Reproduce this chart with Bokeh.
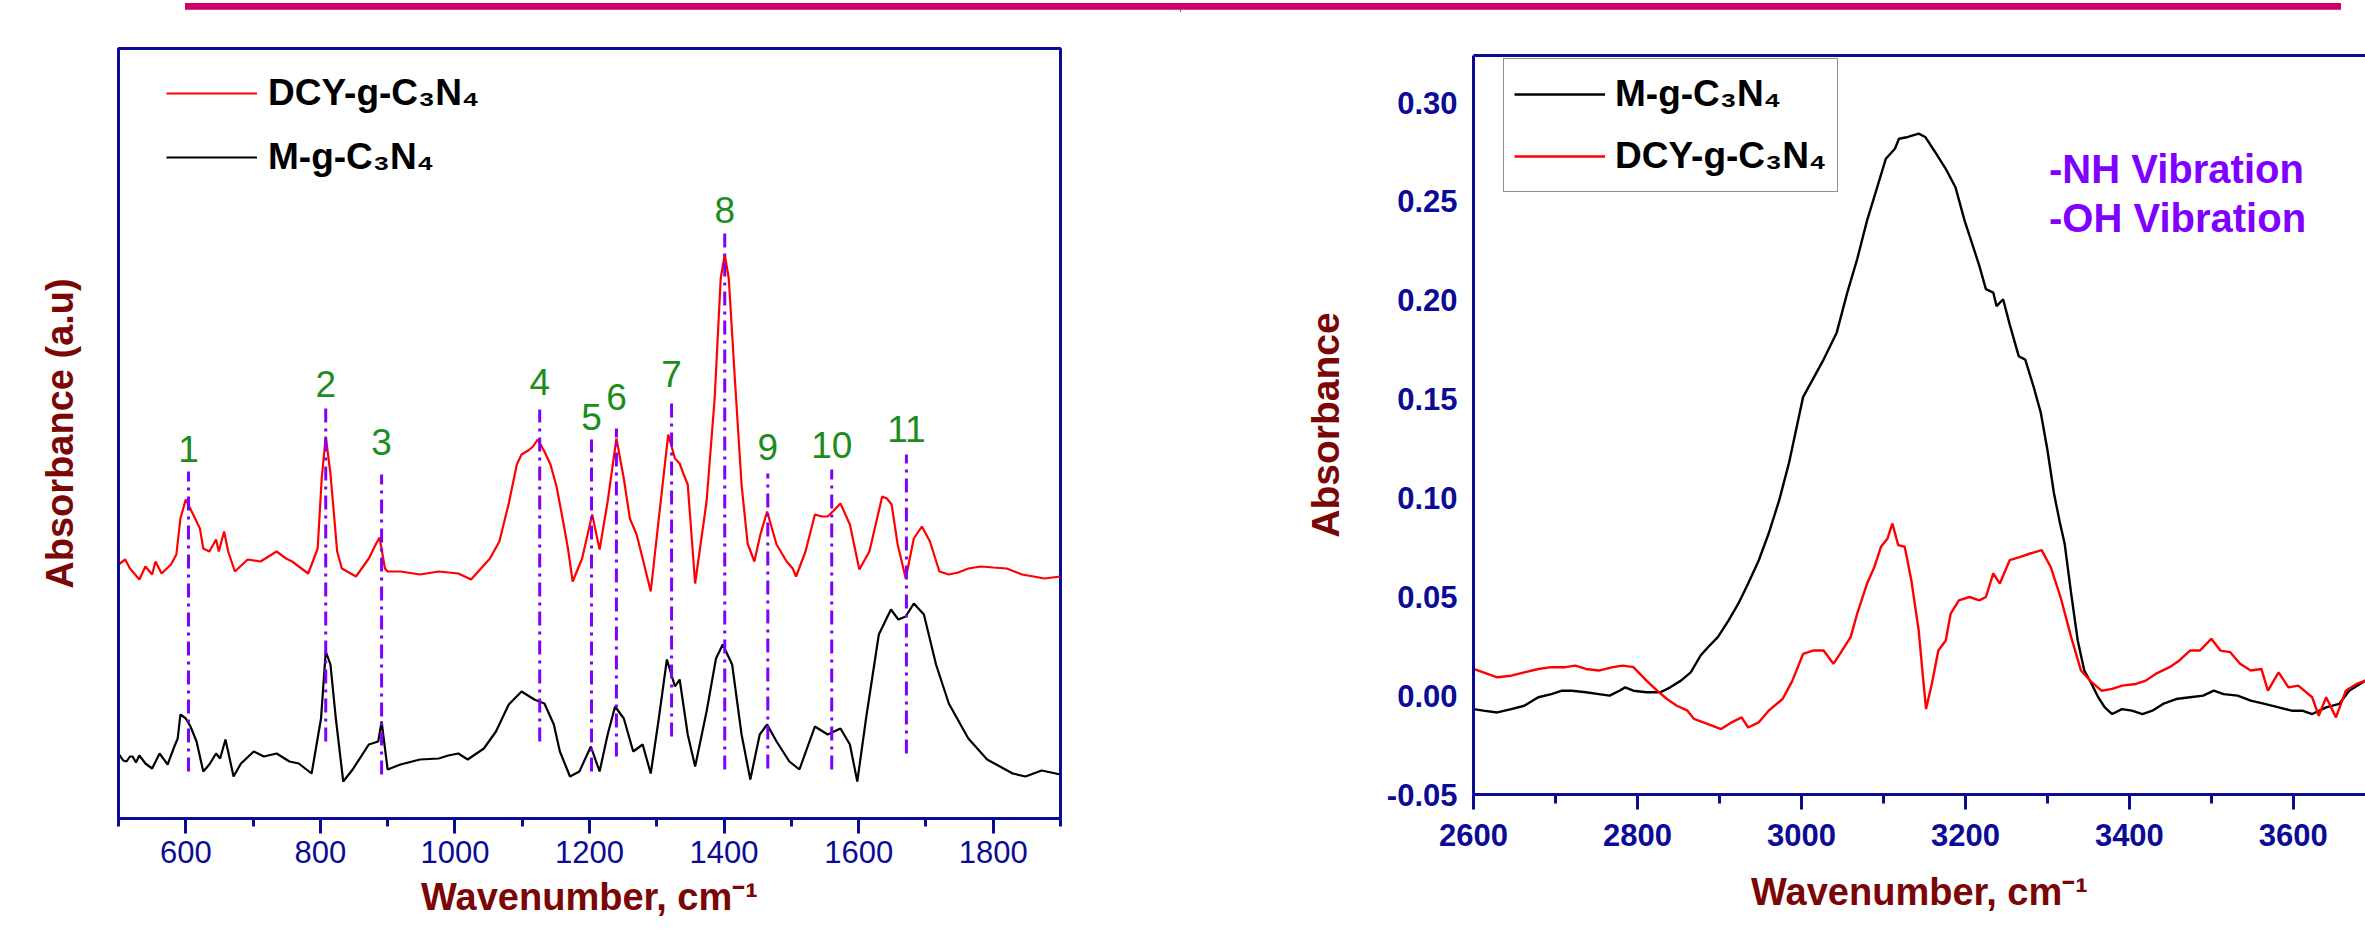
from bokeh.plotting import figure
from bokeh.models import (Range1d, LinearAxis, FixedTicker, SingleIntervalTicker, Legend,
                          LegendItem, Label, Div, PrintfTickFormatter)
from bokeh.layouts import column, row
from bokeh.embed import file_html
from bokeh.resources import INLINE
from bokeh.core.properties import value

# ---------------- data: fingerprint region (500-1900 cm-1), stacked, arbitrary units ----------------
low_wn_dcy = [500, 510, 517, 531, 540, 550, 555, 564, 578, 586, 592, 600, 611, 621, 626, 635, 645, 649,
              657, 663, 673, 692, 711, 735, 749, 758, 782, 796, 802, 808, 815, 825, 832, 853, 872, 883,
              888, 896, 900, 919, 948, 976, 1005, 1024, 1052, 1066, 1080, 1092, 1099, 1109, 1116, 1123,
              1133, 1142, 1151, 1160, 1168, 1175, 1189, 1204, 1215, 1227, 1240, 1251, 1260, 1270, 1279,
              1291, 1303, 1317, 1327, 1334, 1340, 1346, 1357, 1374, 1386, 1395, 1401, 1407, 1416, 1426,
              1435, 1445, 1454, 1464, 1478, 1493, 1502, 1507, 1521, 1535, 1545, 1554, 1563, 1573, 1587,
              1601, 1616, 1635, 1642, 1649, 1658, 1670, 1682, 1694, 1706, 1720, 1734, 1748, 1763, 1782,
              1800, 1820, 1843, 1860, 1876, 1900]
low_dcy = [254, 259, 250, 239, 252, 244, 257, 245, 254, 264, 300, 319, 304, 290, 270, 267, 279, 267,
           287, 267, 247, 259, 257, 267, 260, 257, 245, 270, 340, 382, 345, 267, 250, 242, 260, 275,
           281, 250, 247, 247, 244, 247, 245, 239, 260, 277, 315, 354, 364, 368, 372, 379,
           367, 354, 332, 300, 270, 237, 260, 304, 269, 317, 380, 340, 300, 284, 260,
           227, 300, 384, 360, 355, 344, 334, 235, 317, 420, 540, 564, 540, 440, 334,
           275, 257, 284, 307, 274, 257, 250, 242, 267, 304, 302, 302, 308, 315, 294,
           249, 267, 322, 320, 314, 274, 240, 280, 292, 277, 247, 244, 246, 250, 252,
           251, 250, 244, 242, 240, 242]

low_wn_m = [500, 507, 512, 517, 521, 526, 531, 540, 550, 561, 573, 583, 588, 592, 600, 607, 616, 626,
            635, 645, 651, 659, 671, 682, 701, 716, 735, 754, 768, 787, 801, 808, 815, 823, 834, 848,
            872, 886, 891, 900, 919, 948, 976, 990, 1005, 1019, 1043, 1061, 1080, 1099, 1118, 1133,
            1147, 1156, 1171, 1185, 1202, 1215, 1227, 1238, 1251, 1265, 1279, 1291, 1303, 1315, 1327,
            1334, 1346, 1357, 1374, 1388, 1398, 1412, 1426, 1439, 1453, 1464, 1478, 1497, 1512, 1535,
            1554, 1573, 1587, 1598, 1611, 1630, 1648, 1659, 1670, 1682, 1697, 1715, 1734, 1763, 1791,
            1829, 1848, 1872, 1900]
low_m = [65, 58, 57, 62, 62, 56, 63, 55, 50, 65, 54, 72, 80, 104, 100, 92, 77, 47,
         54, 65, 60, 79, 42, 55, 67, 62, 65, 57, 55, 45, 100, 167, 154, 100, 37, 49,
         74, 77, 97, 49, 54, 59, 60, 63, 65, 59, 70, 87, 114, 127, 119, 115,
         94, 67, 42, 47, 72, 47, 84, 112, 100, 67, 74, 45, 100, 159, 132,
         139, 84, 52, 107, 160, 174, 154, 84, 39, 84, 94, 77, 57, 49, 92,
         84, 90, 74, 37, 100, 184, 209, 199, 202, 215, 204, 154, 115, 80, 59,
         45, 42, 48, 44]

# assigned bands
peak_labels = ["1", "2", "3", "4", "5", "6", "7", "8", "9", "10", "11"]
peak_wn = [604, 808, 891, 1126, 1203, 1240, 1322, 1401, 1465, 1560, 1671]

# ---------------- data: N-H / O-H stretching region ----------------
high_wn_m = [2600, 2612, 2629, 2646, 2662, 2679, 2695, 2708, 2720, 2737, 2753, 2766, 2778, 2785, 2795,
             2811, 2828, 2840, 2853, 2865, 2877, 2886, 2898, 2911, 2923, 2935, 2948, 2960, 2973, 2985,
             3002, 3027, 3043, 3056, 3068, 3080, 3093, 3103, 3114, 3119, 3130, 3143, 3151, 3163, 3176,
             3188, 3199, 3209, 3217, 3225, 3234, 3238, 3246, 3254, 3265, 3273, 3283, 3292, 3300, 3308,
             3315, 3321, 3329, 3337, 3345, 3354, 3362, 3370, 3379, 3391, 3403, 3416, 3428, 3441, 3457,
             3474, 3490, 3503, 3515, 3532, 3548, 3565, 3582, 3598, 3611, 3623, 3640, 3656, 3668, 3688]
high_m = [-0.0068, -0.0076, -0.0085, -0.0068, -0.0051, -0.0008, 0.0008, 0.0025, 0.0025, 0.0017, 0.0008,
          0.0, 0.0025, 0.0042, 0.0025, 0.0017, 0.0017, 0.0042, 0.0076, 0.0118, 0.0203, 0.0245, 0.0296,
          0.038, 0.0465, 0.0567, 0.0685, 0.082, 0.099, 0.118, 0.151, 0.170, 0.1836, 0.204, 0.2208, 0.2403,
          0.258, 0.2716, 0.2766, 0.2817, 0.2826, 0.2843, 0.2826, 0.275, 0.2665, 0.257, 0.2403, 0.2276,
          0.2174, 0.2056, 0.2039, 0.197, 0.2005, 0.1878, 0.1717, 0.170, 0.1565, 0.143, 0.1244, 0.1024,
          0.088, 0.077, 0.0516, 0.0279, 0.0127, 0.0059, -0.0008, -0.0059, -0.0093, -0.0068, -0.0076,
          -0.0093, -0.0076, -0.0042, -0.0017, -0.0008, 0.0, 0.0025, 0.0008, 0.0, -0.0025, -0.0042,
          -0.0059, -0.0076, -0.0076, -0.0093, -0.0059, -0.0042, 0.0025, 0.0076]

high_wn_dcy = [2600, 2612, 2629, 2646, 2662, 2679, 2695, 2712, 2724, 2737, 2753, 2770, 2782, 2795, 2803,
               2811, 2824, 2836, 2848, 2861, 2869, 2886, 2902, 2915, 2927, 2935, 2948, 2960, 2977, 2989,
               3002, 3014, 3027, 3039, 3047, 3060, 3068, 3080, 3089, 3097, 3105, 3111, 3118, 3126, 3134,
               3143, 3149, 3152, 3159, 3167, 3176, 3182, 3192, 3205, 3217, 3225, 3234, 3242, 3254, 3267,
               3279, 3293, 3304, 3316, 3329, 3341, 3354, 3366, 3379, 3391, 3408, 3420, 3432, 3449, 3461,
               3474, 3486, 3500, 3511, 3523, 3535, 3548, 3561, 3569, 3582, 3594, 3606, 3623, 3631, 3640,
               3652, 3664, 3677, 3688]
high_dcy = [0.0135, 0.0118, 0.0093, 0.0101, 0.0118, 0.0135, 0.0144, 0.0144, 0.0152, 0.0135, 0.0127,
            0.0144, 0.0152, 0.0144, 0.011, 0.0076, 0.0025, -0.0017, -0.0051, -0.0076, -0.0118, -0.0144,
            -0.0169, -0.0135, -0.011, -0.0161, -0.0135, -0.0076, -0.0017, 0.0076, 0.0211, 0.0228, 0.0228,
            0.0161, 0.0211, 0.0296, 0.0415, 0.0567, 0.0651, 0.0753, 0.0795, 0.0871, 0.0761, 0.0753, 0.0584,
            0.033, 0.0059, -0.0068, 0.0059, 0.0228, 0.0279, 0.0415, 0.0482, 0.0499, 0.0482, 0.0499, 0.0618,
            0.0567, 0.0685, 0.0702, 0.0719, 0.0736, 0.0651, 0.0499, 0.0296, 0.0127, 0.0068, 0.0025, 0.0034,
            0.0051, 0.0059, 0.0076, 0.011, 0.0144, 0.0178, 0.0228, 0.0228, 0.0288, 0.0228, 0.022, 0.0161,
            0.0127, 0.0135, 0.0025, 0.0118, 0.0042, 0.0051, -0.0008, -0.0102, -0.0008, -0.011, 0.0025,
            0.0059, 0.0076]
high_yticks = [-0.05, 0.0, 0.05, 0.10, 0.15, 0.20, 0.25, 0.30]

# ---------------- layout / style (not data) ----------------
marker_y0 = [47, 77, 44, 77, 47, 62, 82, 49, 50, 49, 65]
marker_y1 = [347, 410, 344, 409, 379, 390, 419, 585, 345, 349, 364]
label_y = [370, 435, 377, 437, 402, 422, 445, 609, 372, 374, 390]

FONT = "Liberation Sans"
NAVY = "#0B0B96"
MAROON = "#7A0606"
GREEN = "#1C8C1C"
VIOLET = "#7F00FF"
RED = "#FF0000"
XTITLE = "Wavenumber, cm\u207b\u00b9"


def style_xaxis(ax, bold, minor_out, standoff, title_standoff):
    ax.ticker = SingleIntervalTicker(interval=200, num_minor_ticks=2)
    ax.axis_line_color = NAVY
    ax.axis_line_width = 3
    ax.major_tick_line_color = NAVY
    ax.major_tick_line_width = 3
    ax.minor_tick_line_color = NAVY
    ax.minor_tick_line_width = 3
    ax.major_tick_in = 0
    ax.major_tick_out = 15
    ax.minor_tick_in = 0
    ax.minor_tick_out = minor_out
    ax.major_label_standoff = standoff
    ax.major_label_text_font = FONT
    ax.major_label_text_font_size = "31px"
    ax.major_label_text_font_style = "bold" if bold else "normal"
    ax.major_label_text_color = NAVY
    ax.axis_label = XTITLE
    ax.axis_label_text_font = FONT
    ax.axis_label_text_font_size = "38px"
    ax.axis_label_text_font_style = "bold"
    ax.axis_label_text_color = MAROON
    ax.axis_label_standoff = title_standoff


def style_ytitle(ax, text, size, standoff):
    ax.axis_label = text
    ax.axis_label_text_font = FONT
    ax.axis_label_text_font_size = size
    ax.axis_label_text_font_style = "bold"
    ax.axis_label_text_color = MAROON
    ax.axis_label_standoff = standoff


# ---------- left panel ----------
p1 = figure(width=1180, height=920, x_range=Range1d(500, 1900), y_range=Range1d(0, 770),
            output_backend="svg", toolbar_location=None, frame_align=False,
            min_border_left=118, min_border_right=120, min_border_top=39, min_border_bottom=111)
p1.grid.visible = False
p1.outline_line_color = NAVY
p1.outline_line_width = 3
p1.outline_line_alpha = 1.0
p1.background_fill_color = "white"
p1.border_fill_color = "white"

style_xaxis(p1.xaxis[0], bold=False, minor_out=8, standoff=7, title_standoff=10)

ya = p1.yaxis[0]
ya.ticker = FixedTicker(ticks=[])
ya.axis_line_color = NAVY
ya.axis_line_width = 3
ya.major_tick_out = 0
ya.major_tick_in = 0
ya.minor_tick_out = 0
ya.major_label_standoff = 0
style_ytitle(ya, "Absorbance (a.u)", "38px", 38)

r_dcy = p1.line(low_wn_dcy, low_dcy, line_color=RED, line_width=2.2)
r_m = p1.line(low_wn_m, low_m, line_color="black", line_width=2.2)
p1.segment(x0=peak_wn, y0=marker_y0, x1=peak_wn, y1=marker_y1, line_color=VIOLET,
           line_width=3, line_dash="14 6 3 6")
p1.text(x=peak_wn, y=label_y, text=peak_labels, text_font=value(FONT), text_font_size="37px",
        text_color=GREEN, text_align="center", text_baseline="middle")

leg1 = Legend(items=[LegendItem(label="DCY-g-C\u2083N\u2084", renderers=[r_dcy]),
                     LegendItem(label="M-g-C\u2083N\u2084", renderers=[r_m])],
              location=(48, 629), orientation="vertical")
leg1.label_text_font = FONT
leg1.label_text_font_size = "37px"
leg1.label_text_font_style = "bold"
leg1.label_text_color = "black"
leg1.glyph_width = 91
leg1.glyph_height = 64
leg1.label_height = 64
leg1.spacing = 0
leg1.padding = 0
leg1.margin = 0
leg1.label_standoff = 11
leg1.border_line_color = None
leg1.background_fill_alpha = 0
p1.add_layout(leg1)

# ---------- right panel ----------
p2 = figure(width=1185, height=920, x_range=Range1d(2600, 3688), y_range=Range1d(-0.05, 0.3238),
            output_backend="svg", toolbar_location=None, frame_align=False,
            min_border_left=293, min_border_right=0, min_border_top=46, min_border_bottom=135)
p2.grid.visible = False
p2.outline_line_color = None
p2.background_fill_color = "white"
p2.border_fill_color = "white"

style_xaxis(p2.xaxis[0], bold=True, minor_out=9, standoff=14, title_standoff=22)

yb = p2.yaxis[0]
yb.ticker = FixedTicker(ticks=high_yticks)
yb.formatter = PrintfTickFormatter(format="%.2f")
yb.axis_line_color = NAVY
yb.axis_line_width = 3
yb.major_tick_out = 0
yb.major_tick_in = 0
yb.minor_tick_out = 0
yb.major_label_standoff = 16
yb.major_label_text_font = FONT
yb.major_label_text_font_size = "31px"
yb.major_label_text_font_style = "bold"
yb.major_label_text_color = NAVY
style_ytitle(yb, "Absorbance", "39px", 37)

top_axis = LinearAxis(ticker=FixedTicker(ticks=[]), axis_line_color=NAVY, axis_line_width=3,
                      major_tick_out=0, major_tick_in=0, major_label_standoff=0,
                      major_label_text_font_size="0px")
p2.add_layout(top_axis, "above")

r2_m = p2.line(high_wn_m, high_m, line_color="black", line_width=2.4)
r2_dcy = p2.line(high_wn_dcy, high_dcy, line_color=RED, line_width=2.4)

leg2 = Legend(items=[LegendItem(label="M-g-C\u2083N\u2084", renderers=[r2_m]),
                     LegendItem(label="DCY-g-C\u2083N\u2084", renderers=[r2_dcy])],
              location=(30, 602), orientation="vertical")
leg2.label_text_font = FONT
leg2.label_text_font_size = "37px"
leg2.label_text_font_style = "bold"
leg2.label_text_color = "black"
leg2.glyph_width = 91
leg2.glyph_height = 50
leg2.label_height = 50
leg2.spacing = 12
leg2.padding = 10
leg2.margin = 0
leg2.label_standoff = 10
leg2.border_line_color = "#222222"
leg2.border_line_width = 1.5
leg2.background_fill_color = "white"
leg2.background_fill_alpha = 1
p2.add_layout(leg2)

for txt, yv in (("-NH Vibration", 0.2665), ("-OH Vibration", 0.2416)):
    p2.add_layout(Label(x=3302, y=yv, text=txt, text_font=FONT, text_font_size="40px",
                        text_font_style="bold", text_color="#8000FF", text_baseline="middle",
                        text_align="left"))

bar = Div(text='<div style="margin-left:185px;width:2156px;height:9px;background:#CF0068;"></div>',
          width=2365, height=9, margin=0)

layout = column(bar, row(p1, p2, spacing=0), spacing=0)
open("out.html", "w").write(file_html(layout, INLINE))
